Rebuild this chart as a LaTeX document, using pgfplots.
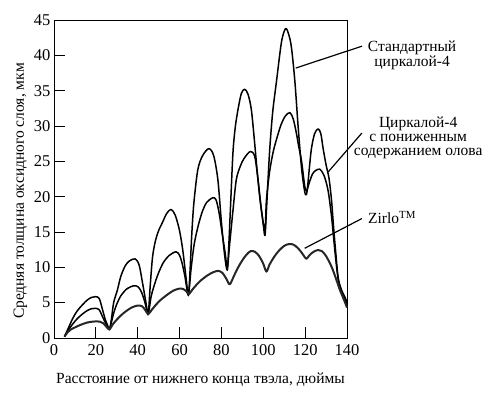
\documentclass[border=0pt]{standalone}
\usepackage{fontspec}
\setmainfont{Liberation Serif}
\usepackage{pgfplots}
\pgfplotsset{compat=1.18}
\begin{document}
\begin{tikzpicture}
\path[use as bounding box] (-54pt,-54pt) rectangle (435pt,338pt);
\begin{axis}[
  at={(0,0)}, anchor=south west,
  width=293pt, height=318pt, scale only axis,
  xmin=0, xmax=140, ymin=0, ymax=45,
  xtick={0,20,...,140}, ytick={0,5,...,45},
  tick align=inside,
  major tick length=11pt,
  tick style={line width=0.9pt, black},
  xtick pos=bottom, ytick pos=left,
  axis line style={line width=1pt},
  /pgf/number format/assume math mode=true,
  tick label style={font=\fontsize{16.5}{16.5}\selectfont},
  xticklabel style={yshift=-3pt},
  xlabel={Расстояние от нижнего конца твэла, дюймы},
  ylabel={Средняя толщина оксидного слоя, мкм},
  label style={font=\fontsize{15.5}{15.5}\selectfont},
  xlabel style={yshift=-10pt},
  ylabel style={xshift=-12pt},
  clip=false,
]
\addplot[black, no markers, line width=1.5pt, smooth, tension=0.5, line join=round] coordinates {
(5,0.2) (7,1.5) (9,2.8) (11,3.8) (13.6,4.7) (16,5.4) (18,5.75) (19.8,5.85) (21.6,5.6) (23.2,4.0) (24.5,2.6) (25.6,1.8) (26.5,1.2)
(27.5,2.8) (28.5,5.0) (30.3,6.8) (31.9,8.7) (34,10.2) (36,10.9) (38.8,11.2) (40.7,10.3) (42.3,7.8) (44,4.9) (45,3.3)
(46,7.5) (47.1,11.5) (48.5,13.8) (50,15.2) (51.9,16.4) (53.8,17.6) (55.9,18.2) (57.9,17.4) (59.9,15.3) (61.5,12.5) (63.1,8.5) (64.2,6.0)
(65,9.5) (65.8,14.5) (66.8,19) (68.7,23.8) (71,25.8) (74,26.8) (76.3,25.8) (78.3,22.4) (79.9,16.7) (81.5,11.8) (82.8,9.6)
(83.5,13) (84.4,19) (85.5,26.2) (86.6,29.8) (87.9,32.3) (89.5,34.6) (91.1,35.2) (92.7,34.5) (94.3,32.3) (95.9,27.5) (97.1,23.5) (98.3,20) (99.9,16.3) (100.8,14.5)
(101.5,18) (102.2,22) (103.1,26.8) (104.5,32) (106.3,36.3) (108.7,41.9) (110.7,43.8) (112.3,42.8) (113.5,41) (115.1,36.3) (116.6,30.1) (118.3,24) (119.8,20.7) (120.6,20.3)
(121.2,21.5) (122,24) (123,26.8) (124.5,28.9) (126.2,29.6) (127.5,28.9) (128.6,26.8) (130,24.5) (131.4,22.6) (132.6,19.5) (133.5,16) (134.5,12.5) (135.8,8.5) (137.5,6.5) (139,5.5) (140,4.4)
};
\addplot[black, no markers, line width=1.5pt, smooth, tension=0.5, line join=round] coordinates {
(5,0.2) (7,1.2) (9,2.0) (11,2.7) (13.6,3.4) (16,3.9) (18,4.15) (19.8,4.2) (21.6,4.0) (23.2,3.0) (24.5,2.2) (25.6,1.6) (26.5,1.2)
(27.5,2.3) (28.5,3.5) (30,4.8) (32,6.0) (35,7.0) (38.4,7.4) (40.3,7.2) (41.8,6.5) (43.3,5.2) (45,3.5)
(46.5,6.0) (48.7,8.2) (50.5,9.6) (52.5,10.8) (55.1,11.7) (58.3,12.2) (60,11.7) (61.2,10.6) (62.5,8.8) (64.2,6.2)
(65.5,9.8) (67,13.3) (69,16) (71,18) (73,19.2) (75.9,19.85) (77.5,19.5) (79,17.5) (80.5,14.5) (81.8,12) (82.8,10)
(84,13.5) (85.5,18) (87.1,22.4) (89,24.3) (90.8,25.4) (93.8,26.4) (95.9,25.7) (97.5,22.4) (99.1,18.1) (100.8,15.3)
(101.5,19.5) (103,23.5) (104.7,26.3) (106.5,28.3) (108.5,30.2) (110.5,31.4) (112.7,31.9) (114.3,31) (115.8,29) (117,27) (118.3,25) (119.8,21.5) (120.7,20.8)
(122,22) (123.5,23.2) (125,23.7) (127,23.9) (128.5,23.3) (129.5,22.6) (131,20.8) (132.5,17.5) (133.5,14.5) (134.5,11.5) (135.8,8.3) (137.5,6.7) (139,5.8) (140,5.0)
};
\addplot[black!85, no markers, line width=2pt, smooth, tension=0.5, line join=round] coordinates {
(5,0.2) (6.5,0.8) (8,1.2) (10,1.5) (13,1.9) (16,2.2) (18,2.3) (20,2.35) (22,2.3) (23.5,2.1) (25,1.6) (26.5,1.2)
(28,1.9) (30,2.6) (32,3.2) (34,3.7) (37,4.3) (40,4.6) (42,4.5) (43.5,4.0) (45,3.4)
(47,4.1) (49,4.8) (51,5.4) (54,6.1) (57,6.7) (60,7.0) (62,6.9) (63.3,6.6) (64.4,6.2)
(66,6.8) (68,7.5) (70,8.1) (73,8.8) (76,9.3) (78.5,9.5) (80.5,9.2) (82.5,8.3) (84,7.6)
(86,8.8) (88,10.0) (90,11.0) (92,11.8) (94,12.3) (96,12.2) (98,11.6) (100,10.5) (101.5,9.4)
(103,10.4) (105,11.4) (107,12.2) (109,12.8) (111,13.2) (113.5,13.3) (115.5,13.0) (117.5,12.4) (119,11.8) (120.6,11.2)
(122,11.7) (124,12.2) (126.2,12.45) (128,12.3) (130,11.6) (132.6,10.1) (134.5,8.6) (136.6,6.8) (138,5.8) (139.5,4.7) (140,4.3)
};
\draw[line width=1.2pt] (axis cs:115.5,38.2) -- (axis cs:147.2,41.3);
\draw[line width=1.2pt] (axis cs:131,23.5) -- (axis cs:147.1,29.0);
\draw[line width=1.2pt] (axis cs:119.8,12.7) -- (axis cs:147.1,16.9);
\node[align=center, font=\fontsize{15.5}{15}\selectfont] at (axis cs:171.1,40.0) {Стандартный\\циркалой-4};
\node[align=center, font=\fontsize{15.5}{14}\selectfont] at (axis cs:174.0,28.3) {Циркалой-4\\с пониженным\\содержанием олова};
\node[anchor=west, inner sep=0pt, font=\fontsize{15.5}{15}\selectfont] at (axis cs:150.0,17.0) {Zirlo\textsuperscript{TM}};
\end{axis}
\end{tikzpicture}
\end{document}
